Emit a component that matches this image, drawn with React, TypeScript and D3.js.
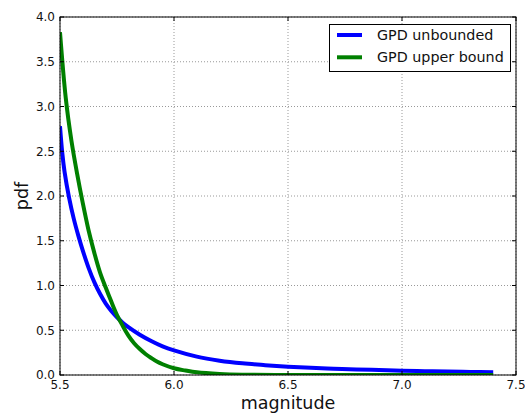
import React from "react";
import * as d3 from "d3";

const xTicks = [5.5, 6.0, 6.5, 7.0, 7.5];
const yTicks = [0, 0.5, 1.0, 1.5, 2.0, 2.5, 3.0, 3.5, 4.0];

const unboundedX = [5.5, 5.51, 5.52, 5.54, 5.56, 5.58, 5.6, 5.625, 5.65, 5.675, 5.7, 5.725, 5.75, 5.775, 5.8, 5.85, 5.9, 5.95, 6.0, 6.1, 6.2, 6.3, 6.4, 6.5, 6.6, 6.7, 6.8, 6.9, 7.0, 7.1, 7.2, 7.3, 7.4];
const unboundedY = [2.78, 2.48, 2.27, 1.98, 1.75, 1.56, 1.39, 1.2, 1.04, 0.91, 0.8, 0.715, 0.645, 0.585, 0.535, 0.45, 0.38, 0.32, 0.275, 0.205, 0.16, 0.13, 0.11, 0.093, 0.08, 0.07, 0.062, 0.055, 0.048, 0.043, 0.038, 0.034, 0.03];

const upperX = [5.5, 5.525, 5.55, 5.575, 5.6, 5.625, 5.65, 5.675, 5.7, 5.725, 5.75, 5.775, 5.8, 5.825, 5.85, 5.875, 5.9, 5.925, 5.95, 6.0, 6.05, 6.1, 6.2, 6.3, 6.5, 7.0, 7.4];
const upperY = [3.83, 3.1, 2.62, 2.25, 1.92, 1.62, 1.37, 1.15, 0.98, 0.82, 0.67, 0.55, 0.44, 0.355, 0.29, 0.235, 0.19, 0.15, 0.12, 0.075, 0.05, 0.03, 0.012, 0.004, 0.001, 0, 0];

const seriesNames = ["GPD unbounded", "GPD upper bound"];
const seriesColors = ["#0000ff", "#008000"];

const W = 525, H = 415;
const L = 60, R = 516, T = 17, B = 375;

export default function App() {
  const x = d3.scaleLinear().domain([5.5, 7.5]).range([L, R]);
  const y = d3.scaleLinear().domain([0, 4]).range([B, T]);
  const line = d3.line<[number, number]>().x(d => x(d[0])).y(d => y(d[1])).curve(d3.curveCatmullRom.alpha(0.5));
  const s1 = unboundedX.map((v, i) => [v, unboundedY[i]] as [number, number]);
  const s2 = upperX.map((v, i) => [v, upperY[i]] as [number, number]);
  const font = "DejaVu Sans, sans-serif";
  return (
    <svg width={W} height={H} style={{ position: "fixed", left: 0, top: 0, background: "#fff" }} fontFamily={font}>
      <defs>
        <clipPath id="plot"><rect x={L} y={T} width={R - L} height={B - T} /></clipPath>
      </defs>
      <rect x={0} y={0} width={W} height={H} fill="#fff" />
      {xTicks.map(t => (
        <line key={"gx" + t} x1={x(t)} x2={x(t)} y1={T} y2={B} stroke="#999" strokeWidth={1} strokeDasharray="1,2" />
      ))}
      {yTicks.map(t => (
        <line key={"gy" + t} x1={L} x2={R} y1={y(t)} y2={y(t)} stroke="#999" strokeWidth={1} strokeDasharray="1,2" />
      ))}
      <g clipPath="url(#plot)">
        <path d={line(s1) || ""} fill="none" stroke={seriesColors[0]} strokeWidth={4} />
        <path d={line(s2) || ""} fill="none" stroke={seriesColors[1]} strokeWidth={4} />
      </g>
      {xTicks.map(t => (
        <g key={"tx" + t}>
          <line x1={x(t)} x2={x(t)} y1={B} y2={B - 4} stroke="#000" />
          <line x1={x(t)} x2={x(t)} y1={T} y2={T + 4} stroke="#000" />
          <text x={x(t)} y={389} fontSize={12} textAnchor="middle" fill="#111">{t.toFixed(1)}</text>
        </g>
      ))}
      {yTicks.map(t => (
        <g key={"ty" + t}>
          <line x1={L} x2={L + 4} y1={y(t)} y2={y(t)} stroke="#000" />
          <line x1={R} x2={R - 4} y1={y(t)} y2={y(t)} stroke="#000" />
          <text x={55} y={y(t) + 4.3} fontSize={12} textAnchor="end" fill="#111">{t.toFixed(1)}</text>
        </g>
      ))}
      <rect x={L} y={T} width={R - L} height={B - T} fill="none" stroke="#000" strokeWidth={1} />
      <text x={(L + R) / 2} y={409} fontSize={17.5} textAnchor="middle" fill="#111">magnitude</text>
      <text transform={`translate(28,${(T + B) / 2}) rotate(-90)`} fontSize={17.5} textAnchor="middle" fill="#111">pdf</text>
      <rect x={329.5} y={24.5} width={181} height={47} fill="#fff" stroke="#000" strokeWidth={1} />
      {seriesNames.map((n, i) => (
        <g key={n}>
          <line x1={337} x2={362} y1={35 + i * 22.3} y2={35 + i * 22.3} stroke={seriesColors[i]} strokeWidth={4} />
          <text x={377} y={40 + i * 22.3} fontSize={14.3} fill="#111">{n}</text>
        </g>
      ))}
    </svg>
  );
}
